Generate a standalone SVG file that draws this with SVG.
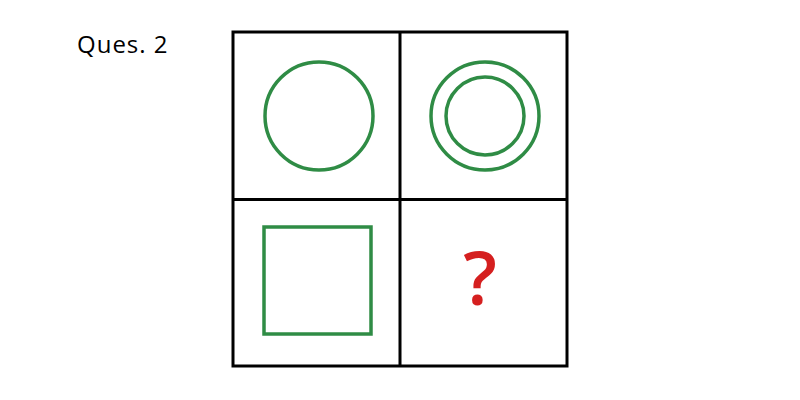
<svg xmlns="http://www.w3.org/2000/svg" width="800" height="400" viewBox="0 0 800 400">
<style>
.grid{fill:none;stroke:#000;stroke-width:3}
.shape{fill:none;stroke:#2f8c45;stroke-width:3.5}
.lbl{font-family:"Open Sans","Liberation Sans",sans-serif;font-size:24px;letter-spacing:1px;fill:#000}
.q{font-family:"Open Sans","Liberation Sans",sans-serif;font-size:74px;font-weight:600;fill:#d51f1f}
</style>
<rect width="800" height="400" fill="#fff"/>
<text class="lbl" x="77" y="53">Ques. 2</text>
<g id="grid">
<rect class="grid" x="233" y="32" width="334" height="334"/>
<line class="grid" x1="400" y1="32" x2="400" y2="366"/>
<line class="grid" x1="233" y1="199.5" x2="567" y2="199.5"/>
</g>
<g id="circle"><circle class="shape" cx="319" cy="116" r="54"/></g>
<g id="double-circle"><circle class="shape" cx="485" cy="116" r="54"/><circle class="shape" cx="485" cy="116" r="39"/></g>
<g id="square"><rect class="shape" x="264" y="227" width="107" height="107"/></g>
<g id="question"><text class="q" x="480" y="305" text-anchor="middle">?</text></g>
</svg>
